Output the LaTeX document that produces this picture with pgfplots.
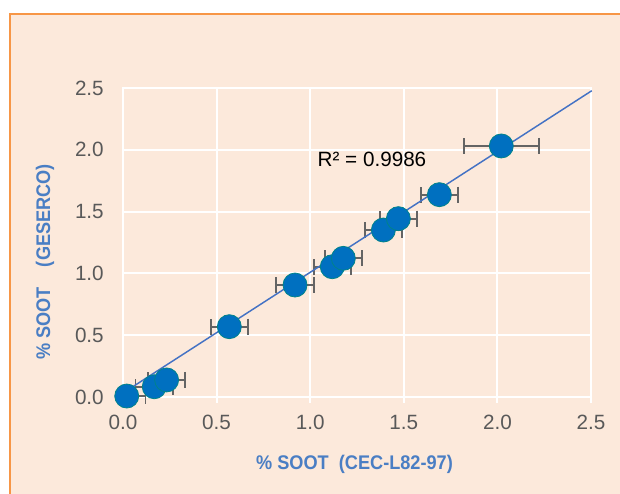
\documentclass[border=0pt]{standalone}
\usepackage{fontspec}
\setmainfont{Liberation Sans}
\newfontfamily\labfont[FakeStretch=0.92]{Liberation Sans}
\usepackage{pgfplots}
\pgfplotsset{compat=1.18}
\usetikzlibrary{backgrounds}
\definecolor{bgcol}{HTML}{FCE9DB}
\definecolor{bordercol}{HTML}{F79646}
\definecolor{markcol}{HTML}{0070C0}
\definecolor{markedge}{HTML}{00838A}
\definecolor{errcol}{HTML}{646464}
\definecolor{linecol}{HTML}{4472C4}
\definecolor{labcol}{HTML}{4A7EC4}
\definecolor{tickcol}{HTML}{595959}
\pgfplotstableread{
x y ep em
0.020 0.008 0.1 0.02
0.167 0.083 0.1 0.1
0.233 0.138 0.1 0.1
0.568 0.569 0.1 0.1
0.919 0.906 0.1 0.1
1.118 1.054 0.1 0.1
1.177 1.122 0.1 0.1
1.391 1.351 0.1 0.1
1.471 1.443 0.1 0.1
1.690 1.637 0.1 0.1
2.021 2.031 0.2 0.2
}\soot
\begin{document}
\begin{tikzpicture}
\begin{axis}[
  name=ax, at={(0,0)}, anchor=south west,
  scale only axis, width=351pt, height=231.75pt,
  xmin=0, xmax=2.5, ymin=0, ymax=2.5,
  xtick={0,0.5,1,1.5,2,2.5}, ytick={0,0.5,1,1.5,2,2.5},
  grid=major, grid style={white, line width=1.5pt},
  axis line style={white, line width=1.5pt},
  tick align=outside, xtick pos=bottom, ytick pos=left,
  major tick length=4.5pt,
  xtick style={white, line width=1.5pt},
  ytick style={draw=none},
  tick label style={font=\fontsize{15.5}{18}\selectfont, text=tickcol},
  /pgf/number format/assume math mode=true,
  /pgf/number format/.cd, fixed, fixed zerofill, precision=1, /pgfplots/.cd,
  xticklabel style={anchor=center, yshift=-14.25pt},
  yticklabel style={anchor=east, inner sep=0pt, xshift=-9.75pt},
  xlabel={\labfont\bfseries \% SOOT\ \ (CEC-L82-97)},
  ylabel={\labfont\bfseries \% SOOT\ \ \ \ (GESERCO)},
  label style={font=\fontsize{14.8}{17}\selectfont, text=labcol},
  xlabel style={at={(axis description cs:0.4947,-0.2168)}, anchor=center},
  ylabel style={at={(axis description cs:-0.1667,0.437)}, anchor=center},
  clip=false,
]
\addplot[draw=none, mark=none,
  error bars/.cd, x dir=both, x explicit,
  error bar style={errcol, line width=1.4pt},
  error mark options={rotate=90, errcol, mark size=6pt, line width=1.4pt}]
  table[x=x, y=y, x error plus=ep, x error minus=em] {\soot};
\addplot[only marks, mark=*, mark size=9pt,
  mark options={fill=markcol, draw=markedge, line width=0.6pt}]
  table[x=x, y=y] {\soot};
\addplot[linecol, line width=1.1pt] coordinates {(-0.043,-0.010) (2.504,2.478)};
\node[font=\fontsize{15.5}{18}\selectfont, text=black] at (axis cs:1.33,1.926) {R² = 0.9986};
\end{axis}
\begin{scope}[on background layer, shift={(ax.south west)}, x=0.75pt, y=0.75pt]
\fill[bgcol] (-113,-116) rectangle (517,383);
\draw[bordercol, line width=1.5pt] (-113,-116) -- (-113,383) -- (517,383);
\end{scope}
\pgfresetboundingbox
\useasboundingbox ([shift={(-123pt*0.75,-96pt*0.75)}]ax.south west) rectangle ([shift={(497pt*0.75,397pt*0.75)}]ax.south west);
\end{tikzpicture}
\end{document}
